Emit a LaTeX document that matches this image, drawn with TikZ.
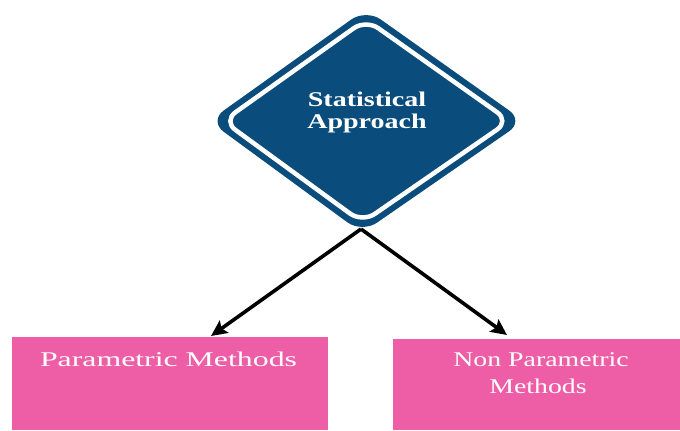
\documentclass[tikz,border=0pt]{standalone}
\usepackage{fontspec}
\usepackage{graphicx}
\setmainfont{Liberation Serif}
\usetikzlibrary{arrows.meta}
\definecolor{dblue}{RGB}{10,76,124}
\definecolor{mpink}{RGB}{238,94,166}
\tikzset{
  pinkbox/.style={fill=mpink, draw=none},
  boxtext/.style={text=white, inner sep=0pt, anchor=base, font=\fontsize{21}{22}\selectfont},
  headtext/.style={text=white, inner sep=0pt, anchor=base, font=\fontsize{21}{22}\selectfont\bfseries},
  conn/.style={line width=3.6bp, -{Stealth[length=16bp,width=15bp,inset=3bp]}}
}
\begin{document}
\begin{tikzpicture}[x=1bp,y=-1bp]
\useasboundingbox (0,0) rectangle (680,430);
% diamond
\fill[dblue, rounded corners=18bp] (366,9) -- (524,121) -- (362,233) -- (209,121) -- cycle;
\draw[white, line width=4.5bp, rounded corners=15bp] (366,19.5) -- (509.5,121) -- (362.3,222.5) -- (223.2,121) -- cycle;
\coordinate (dbot) at (361,229);
\node[headtext] (t1) at (367,106) {\scalebox{1.34}[1]{Statistical}};
\node[headtext] (t2) at (367,128) {\scalebox{1.34}[1]{Approach}};
% boxes
\path[pinkbox] (12,337) rectangle (328,430);
\path[pinkbox] (393,339) rectangle (680,430);
\node[boxtext] (lt) at (168.5,366) {\scalebox{1.52}[1]{Parametric Methods}};
\node[boxtext] (rt1) at (541,366) {\scalebox{1.33}[1]{Non Parametric}};
\node[boxtext] (rt2) at (538,393) {\scalebox{1.33}[1]{Methods}};
\coordinate (la) at (211,336);
\coordinate (ra) at (507,335);
\draw[conn] (dbot) -- (la);
\draw[conn] (dbot) -- (ra);
\end{tikzpicture}
\end{document}
